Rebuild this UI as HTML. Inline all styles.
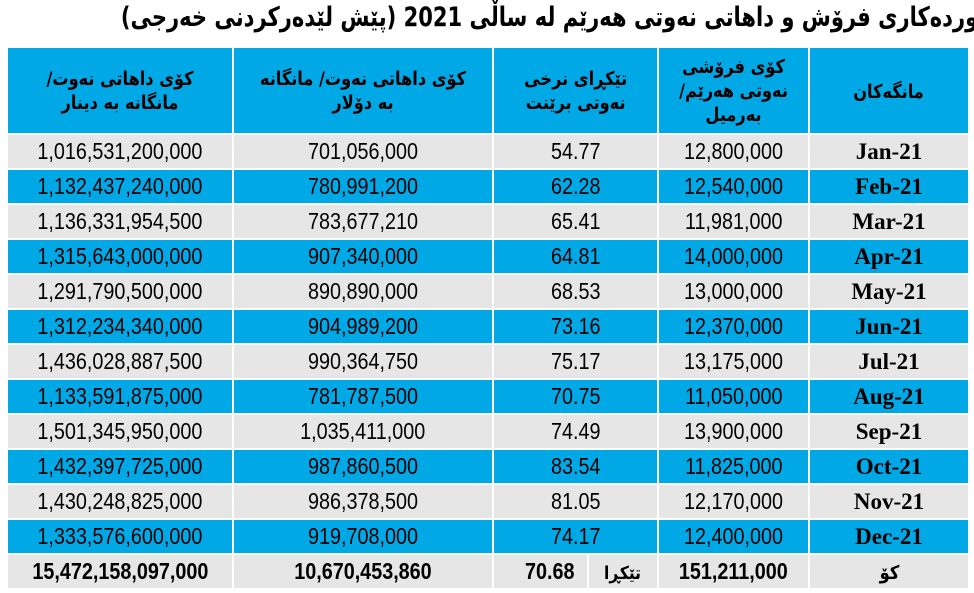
<!DOCTYPE html>
<html><head><meta charset="utf-8"><style>
body{margin:0;width:974px;height:593px;background:#fff;overflow:hidden;font-family:"Liberation Sans",sans-serif}
#title{position:absolute;left:0;top:2px;width:974px;text-align:center;line-height:40px;white-space:nowrap}
#title span{display:inline-block;font:bold 27px "DejaVu Sans","Liberation Sans",sans-serif;direction:rtl;transform:scaleX(0.78);transform-origin:center}
table{position:absolute;left:6px;top:46px;border-collapse:collapse;table-layout:fixed}
td{border:2px solid #fff;text-align:center;padding:0;font-size:23px;color:#000;height:33px;white-space:nowrap;overflow:hidden}
td span{display:inline-block;transform:scaleX(0.86)}
tr.h td{background:#00a8e6;height:85px;white-space:normal}
tr.h td span{font:bold 19px "DejaVu Sans",sans-serif;direction:rtl;line-height:24px;transform:scaleX(0.85)}
tr.g td{background:#e6e6e6}
tr.b td{background:#00a8e6}
td.m span{font:bold 23px "Liberation Serif",serif;transform:none}
tr.t td{background:#e6e6e6;font-weight:bold}
</style></head><body>
<div id="title"><span>وردەکاری فرۆش و داهاتی نەوتی هەرێم لە ساڵی 2021 (پێش لێدەرکردنی خەرجی)</span></div>
<table>
<colgroup><col style="width:226px"><col style="width:260px"><col style="width:95px"><col style="width:70px"><col style="width:151px"><col style="width:160px"></colgroup>
<tr class="h">
<td><span>کۆی داهاتی نەوت/ مانگانە بە دینار</span></td>
<td><span>کۆی داهاتی نەوت/ مانگانە بە دۆلار</span></td>
<td colspan="2"><span>تێکڕای نرخی<br>نەوتی برێنت</span></td>
<td><span>کۆی فرۆشی نەوتی هەرێم/ بەرمیل</span></td>
<td><span>مانگەکان</span></td>
</tr>
<tbody id="body"></tbody>
<tr class="t">
<td><span>15,472,158,097,000</span></td>
<td><span>10,670,453,860</span></td>
<td style="text-align:right;padding-right:8px"><span>70.68</span></td>
<td><span style="font:bold 18px 'DejaVu Sans',sans-serif">تێکڕا</span></td>
<td><span>151,211,000</span></td>
<td><span style="font:bold 19px 'DejaVu Sans',sans-serif">کۆ</span></td>
</tr>
</table>
<script>
const months=["Jan-21","Feb-21","Mar-21","Apr-21","May-21","Jun-21","Jul-21","Aug-21","Sep-21","Oct-21","Nov-21","Dec-21"];
const barrels=["12,800,000","12,540,000","11,981,000","14,000,000","13,000,000","12,370,000","13,175,000","11,050,000","13,900,000","11,825,000","12,170,000","12,400,000"];
const prices=["54.77","62.28","65.41","64.81","68.53","73.16","75.17","70.75","74.49","83.54","81.05","74.17"];
const dollars=["701,056,000","780,991,200","783,677,210","907,340,000","890,890,000","904,989,200","990,364,750","781,787,500","1,035,411,000","987,860,500","986,378,500","919,708,000"];
const dinars=["1,016,531,200,000","1,132,437,240,000","1,136,331,954,500","1,315,643,000,000","1,291,790,500,000","1,312,234,340,000","1,436,028,887,500","1,133,591,875,000","1,501,345,950,000","1,432,397,725,000","1,430,248,825,000","1,333,576,600,000"];
const tb=document.getElementById('body');
months.forEach((m,i)=>{
 const tr=document.createElement('tr');
 tr.className=i%2?'b':'g';
 
 
 const cells=[[dinars[i],'dinar',1,''],[dollars[i],'dollar',1,''],[prices[i],'price',2,''],[barrels[i],'barrels',1,''],[m,'month',1,'m']];
 cells.forEach(c=>{
  const td=document.createElement('td');
  const sp=document.createElement('span');
  sp.textContent=c[0];td.appendChild(sp);
  td.colSpan=c[2];if(c[3])td.className=c[3];
  
  
  tr.appendChild(td);
 });
 tb.appendChild(tr);
});
</script>
</body></html>
